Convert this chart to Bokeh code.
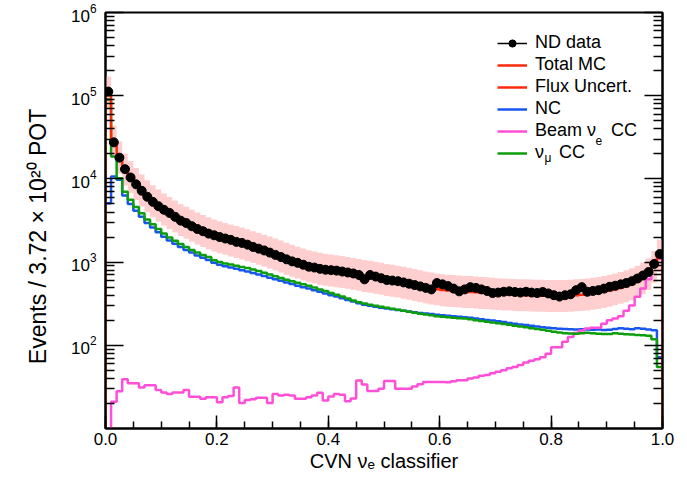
import numpy as np
from bokeh.plotting import figure
from bokeh.models import (Legend, LegendItem, LogAxis, FixedTicker, Label,
                          CustomJSTickFormatter, SingleIntervalTicker, PrintfTickFormatter)
from bokeh.embed import file_html
from bokeh.resources import INLINE

# ---------------- data (100 bins of CVN nue classifier, 0..1) ----------------
x_min, x_max, n_bins = 0.0, 1.0, 100

data_vals = [1.12e5, 2.75e4, 1.8e4, 1.31e4, 1.04e4, 8.6e3, 7.2e3, 6.1e3, 5.3e3, 4.7e3,
             4.25e3, 3.9e3, 3.5e3, 3.15e3, 2.95e3, 2.7e3, 2.5e3, 2.35e3, 2.2e3, 2.1e3,
             2.0e3, 1.92e3, 1.85e3, 1.75e3, 1.7e3, 1.62e3, 1.52e3, 1.45e3, 1.38e3, 1.3e3,
             1.22e3, 1.15e3, 1.08e3, 1.02e3, 980, 930, 880, 860, 830, 810,
             800, 790, 770, 750, 730, 700, 620, 700, 670, 640,
             610, 600, 590, 570, 550, 530, 510, 490, 470, 560,
             540, 515, 480, 445, 470, 500, 490, 470, 450, 425,
             430, 440, 445, 437, 430, 440, 430, 425, 437, 420,
             400, 385, 400, 410, 460, 500, 440, 450, 460, 480,
             505, 520, 540, 560, 590, 635, 690, 760, 950, 1.25e3]

mc_vals = [1.1e5, 2.8e4, 1.82e4, 1.3e4, 1.05e4, 8.7e3, 7.3e3, 6.2e3, 5.4e3, 4.8e3,
           4.3e3, 3.9e3, 3.55e3, 3.22e3, 2.98e3, 2.75e3, 2.55e3, 2.38e3, 2.23e3, 2.1e3,
           2.0e3, 1.91e3, 1.83e3, 1.75e3, 1.68e3, 1.6e3, 1.52e3, 1.45e3, 1.38e3, 1.31e3,
           1.24e3, 1.17e3, 1.1e3, 1.04e3, 990, 940, 895, 865, 835, 812,
           795, 780, 762, 745, 725, 705, 685, 668, 650, 632,
           612, 598, 585, 568, 550, 532, 515, 498, 483, 472,
           462, 455, 450, 445, 440, 438, 433, 428, 423, 418,
           414, 410, 408, 405, 402, 400, 398, 396, 395, 393,
           392, 392, 393, 395, 400, 405, 410, 418, 428, 440,
           455, 472, 492, 515, 545, 585, 640, 720, 880, 1.2e3]

nc_vals = [5.1e3, 1.07e4, 9.8e3, 6.3e3, 5.0e3, 4.15e3, 3.5e3, 2.95e3, 2.6e3, 2.28e3,
           2.02e3, 1.82e3, 1.66e3, 1.52e3, 1.4e3, 1.3e3, 1.2e3, 1.13e3, 1.06e3, 985,
           930, 890, 860, 830, 800, 770, 740, 710, 680, 650,
           620, 595, 570, 545, 520, 500, 480, 460, 440, 420,
           400, 385, 368, 350, 335, 320, 308, 298, 290, 283,
           277, 272, 266, 260, 255, 250, 245, 241, 237, 233,
           230, 227, 223, 220, 218, 214, 210, 206, 202, 198,
           194, 190, 186, 182, 178, 175, 172, 168, 165, 163,
           160, 158, 157, 156, 155, 156, 155, 154, 155, 153,
           154, 157, 160, 158, 156, 160, 158, 155, 152, 72]

beam_nue_vals = [9, 21, 28, 39, 35, 35, 31, 33, 33, 29,
                 27, 26, 27, 27, 29, 24, 24, 22.8, 23.8, 23.8,
                 20.7, 23.8, 24.5, 31, 20.2, 22, 22.5, 23.4, 23.4, 20.2,
                 26, 25, 25.5, 25, 22.8, 22.8, 23.8, 25, 26.9, 21.7,
                 24.3, 26, 25.5, 21.3, 23, 37.8, 33.9, 28.2, 28.2, 30.1,
                 37.2, 37.2, 30, 30.1, 30.1, 32, 34, 36.1, 36.1, 36.1,
                 36.1, 36, 37, 38, 38, 40, 41, 43, 44, 46,
                 48, 50, 53, 55, 58, 62, 65, 68, 72, 79,
                 95, 95, 110, 126, 141, 151, 159, 163, 163, 182,
                 200, 210, 224, 260, 300, 382, 480, 620, 900, 1100]

numu_cc_vals = [9.0e4, 1.86e4, 1.02e4, 7.0e3, 5.6e3, 4.6e3, 3.86e3, 3.25e3, 2.85e3, 2.5e3,
                2.2e3, 1.98e3, 1.8e3, 1.65e3, 1.52e3, 1.4e3, 1.3e3, 1.22e3, 1.15e3, 1.05e3,
                1.0e3, 965, 935, 905, 875, 850, 815, 780, 745, 710,
                675, 645, 615, 590, 565, 540, 520, 495, 470, 450,
                425, 405, 385, 365, 345, 330, 318, 308, 298, 290,
                282, 275, 267, 260, 253, 246, 240, 234, 229, 224,
                220, 218, 215, 212, 210, 205, 200, 196, 192, 188,
                184, 180, 176, 172, 168, 165, 160, 157, 154, 150,
                146, 143, 140, 139, 138, 140, 142, 140, 138, 137,
                137, 140, 138, 136, 135, 133, 132, 130, 118, 55]

flux_up_frac = 0.55
flux_dn_frac = 0.36

legend_labels = ["ND data", "Total MC", "Flux Uncert.", "NC", "Beam \u03bd   CC", "\u03bd   CC"]

# ---------------- derived arrays ----------------
edges = np.linspace(x_min, x_max, n_bins + 1)
centers = 0.5 * (edges[:-1] + edges[1:])
data_arr = np.array(data_vals, dtype=float)
mc_arr = np.array(mc_vals, dtype=float)

def outline(vals, floor=1e-3):
    xs = np.repeat(edges, 2)
    ys = np.concatenate([[floor], np.repeat(np.asarray(vals, dtype=float), 2), [floor]])
    return xs, ys

FONT = "Liberation Sans"
RED = "#ff2a0a"
BLUE = "#1757f0"
MAGENTA = "#ff4fd8"
GREEN = "#0c9e0c"
BAND = "#ffcfcf"

p = figure(width=687, height=480, y_axis_type="log", x_range=(x_min, x_max), y_range=(10, 1e6),
           output_backend="svg", toolbar_location=None,
           min_border_left=105, min_border_right=25, min_border_top=12, min_border_bottom=52)
p.xgrid.visible = False
p.ygrid.visible = False
p.outline_line_color = "black"
p.outline_line_width = 2
p.background_fill_color = "white"
p.border_fill_color = "white"

# flux uncertainty band (stepped patch)
up = mc_arr * (1 + flux_up_frac)
dn = mc_arr * (1 - flux_dn_frac)
bx = np.repeat(edges, 2)[1:-1]
band = p.patch(np.concatenate([bx, bx[::-1]]),
               np.concatenate([np.repeat(up, 2), np.repeat(dn, 2)[::-1]]),
               fill_color=BAND, line_color=None)

xs, ys = outline(nc_vals)
nc_line = p.line(xs, ys, line_color=BLUE, line_width=2.5)
xs, ys = outline(beam_nue_vals)
nue_line = p.line(xs, ys, line_color=MAGENTA, line_width=2.5)
xs, ys = outline(numu_cc_vals)
numu_line = p.line(xs, ys, line_color=GREEN, line_width=2.5)
xs, ys = outline(mc_vals)
mc_line = p.line(xs, ys, line_color=RED, line_width=2.5)

# data
err = np.sqrt(data_arr)
data_h = p.segment(x0=edges[:-1], x1=edges[1:], y0=data_arr, y1=data_arr, line_color="black", line_width=1.5)
p.segment(x0=centers, x1=centers, y0=data_arr - err, y1=data_arr + err, line_color="black", line_width=1.5)
data_pts = p.scatter(centers, data_arr, size=9, marker="circle", fill_color="black", line_color="black")

# legend-only band swatch
band_swatch = p.line([], [], line_color=BAND, line_width=14)

# axes
p.xaxis.ticker = SingleIntervalTicker(interval=0.2, num_minor_ticks=4)
p.xaxis.formatter = PrintfTickFormatter(format="%.1f")
p.xaxis.axis_label = "CVN \u03bd\u2091 classifier"

major_y = [10.0 ** k for k in range(2, 7)]
minor_y = [m * 10.0 ** k for k in range(1, 6) for m in range(2, 10)]
p.yaxis.ticker = FixedTicker(ticks=major_y, minor_ticks=minor_y)
p.yaxis.axis_label = "Events / 3.72 \u00d7 10\u00b2\u2070 POT" + "\u00a0" * 5

for ax in p.xaxis:
    ax.major_tick_in = 13
    ax.major_tick_out = 0
    ax.minor_tick_in = 7
    ax.minor_tick_out = 0
    ax.major_label_standoff = 4
    ax.axis_label_standoff = 2
for ax in p.yaxis:
    ax.major_tick_in = 18
    ax.major_tick_out = 0
    ax.minor_tick_in = 9
    ax.minor_tick_out = 0
    ax.major_label_standoff = 9
    ax.axis_label_standoff = 17

for ax in list(p.xaxis) + list(p.yaxis):
    ax.axis_line_color = "black"
    ax.axis_line_width = 2
    ax.major_tick_line_width = 1.5
    ax.minor_tick_line_width = 1.5
    ax.major_label_text_font = FONT
    ax.major_label_text_font_size = "17px"
    ax.major_label_text_color = "black"
    ax.axis_label_text_font = FONT
    ax.axis_label_text_font_style = "normal"
    ax.axis_label_text_color = "black"
p.xaxis.axis_label_text_font_size = "20px"
p.yaxis.axis_label_text_font_size = "23px"

right = LogAxis(ticker=FixedTicker(ticks=major_y, minor_ticks=minor_y),
                formatter=CustomJSTickFormatter(code="return ''"),
                major_tick_in=18, major_tick_out=0, minor_tick_in=9, minor_tick_out=0,
                axis_line_color="black", axis_line_width=2,
                major_tick_line_width=1.5, minor_tick_line_width=1.5,
                major_label_text_font_size="1px", major_label_standoff=0)
p.add_layout(right, "right")

legend = Legend(items=[
    LegendItem(label=legend_labels[0], renderers=[data_h, data_pts]),
    LegendItem(label=legend_labels[1], renderers=[mc_line]),
    LegendItem(label=legend_labels[2], renderers=[band_swatch, mc_line]),
    LegendItem(label=legend_labels[3], renderers=[nc_line]),
    LegendItem(label=legend_labels[4], renderers=[nue_line]),
    LegendItem(label=legend_labels[5], renderers=[numu_line]),
], location=(392, 265))
legend.border_line_color = None
legend.background_fill_alpha = 0
legend.padding = 0
legend.margin = 0
legend.spacing = 1
legend.glyph_width = 30
legend.glyph_height = 18
legend.label_height = 18
legend.label_standoff = 8
legend.label_text_font = FONT
legend.label_text_font_size = "18px"
legend.label_text_color = "black"
p.add_layout(legend)

p.add_layout(Label(x=490, y=288, x_units="screen", y_units="screen", text="e",
                   text_font=FONT, text_font_size="12px", text_baseline="middle", text_color="black"))
p.add_layout(Label(x=439, y=271, x_units="screen", y_units="screen", text="\u03bc",
                   text_font=FONT, text_font_size="12px", text_baseline="middle", text_color="black"))

open("out.html", "w").write(file_html(p, INLINE))
